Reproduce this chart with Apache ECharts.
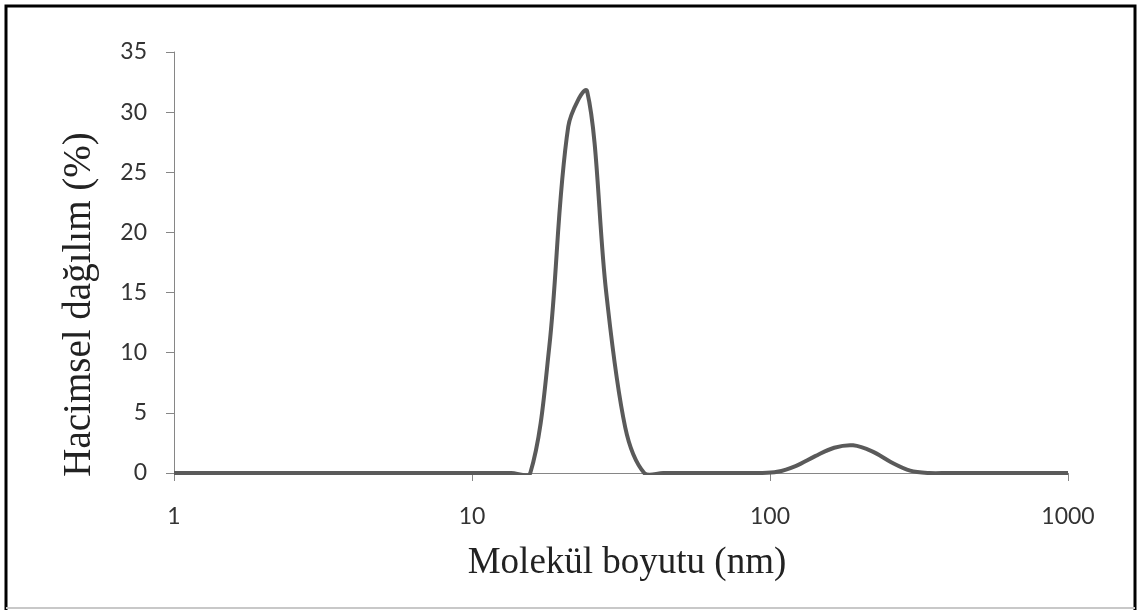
<!DOCTYPE html>
<html lang="tr" style="height: 100%">
<head>
  <meta charset="utf-8">
</head>
<body style="height: 100%; margin: 0; background: #fff">
  <div id="container" style="width: 1138px; height: 610px"></div>

  <script type="text/javascript" src="https://fastly.jsdelivr.net/npm/echarts@6/dist/echarts.min.js"></script>
  <script type="text/javascript">
    // size bins (nm) and volume distribution (%)
    var sizes = [0.9649, 1.117, 1.294, 1.499, 1.736, 2.01, 2.328, 2.696, 3.122, 3.615,
      4.187, 4.849, 5.615, 6.503, 7.531, 8.721, 10.1, 11.7, 13.54, 15.69,
      18.17, 21.04, 24.36, 28.21, 32.67, 37.84, 43.82, 50.75, 58.77, 68.06,
      78.82, 91.28, 105.7, 122.4, 141.8, 164.2, 190.1, 220.2, 255.0, 295.3,
      342.0, 396.1, 458.7, 531.2, 615.1, 712.4, 825.0, 955.4, 1106];
    var volume = [0, 0, 0, 0, 0, 0, 0, 0, 0, 0,
      0, 0, 0, 0, 0, 0, 0, 0, 0, 0,
      10.5, 28.8, 31.7, 15.0, 3.8, 0, 0, 0, 0, 0,
      0, 0, 0.1, 0.6, 1.4, 2.1, 2.3, 1.8, 0.9, 0.2,
      0, 0, 0, 0, 0, 0, 0, 0, 0];
    var yTicks = [0, 5, 10, 15, 20, 25, 30, 35];

    var dom = document.getElementById('container');
    var myChart = echarts.init(dom, null, { renderer: 'canvas' });

    var seriesData = sizes.map(function (s, i) { return [s, volume[i]]; });
    var axisGray = '#868686';
    var labelFont = 'Lato, "Open Sans", sans-serif';
    var nameFont = '"Liberation Serif", "DejaVu Serif", serif';

    function dist(a, b) { return Math.sqrt((a[0] - b[0]) * (a[0] - b[0]) + (a[1] - b[1]) * (a[1] - b[1])); }

    // spreadsheet-style smoothed line: bezier arms scaled by neighbouring segment lengths
    function renderCurve(params, api) {
      if (params.dataIndex !== 0) return;
      var pts = seriesData.map(function (d) { return api.coord(d); });
      var path = 'M' + pts[0][0] + ',' + pts[0][1];
      for (var i = 0; i < pts.length - 1; i++) {
        var p0 = pts[i - 1] || pts[i];
        var p1 = pts[i];
        var p2 = pts[i + 1];
        var p3 = pts[i + 2] || p2;
        var d01 = dist(p0, p1), d12 = dist(p1, p2), d23 = dist(p2, p3);
        var f1 = d01 + d12 > 0 ? d12 / (d01 + d12) / 3 : 0;
        var f2 = d12 + d23 > 0 ? d12 / (d12 + d23) / 3 : 0;
        var c1x = p1[0] + (p2[0] - p0[0]) * f1, c1y = p1[1] + (p2[1] - p0[1]) * f1;
        var c2x = p2[0] - (p3[0] - p1[0]) * f2, c2y = p2[1] - (p3[1] - p1[1]) * f2;
        path += 'C' + c1x + ',' + c1y + ' ' + c2x + ',' + c2y + ' ' + p2[0] + ',' + p2[1];
      }
      var cs = params.coordSys;
      return {
        type: 'group',
        clipPath: { type: 'rect', shape: { x: cs.x, y: cs.y - 4, width: cs.width, height: cs.height + 6 } },
        children: [{
          type: 'path',
          shape: { pathData: path },
          style: { fill: null, stroke: '#5a5a5a', lineWidth: 4, lineJoin: 'round' }
        }]
      };
    }

    var option = {
      animation: false,
      backgroundColor: '#fff',
      grid: { left: 174, right: 70, top: 52, bottom: 137 },
      xAxis: {
        type: 'log',
        logBase: 10,
        min: 1,
        max: 1000,
        name: 'Molekül boyutu (nm)',
        nameLocation: 'middle',
        nameGap: 72,
        nameTextStyle: { fontFamily: nameFont, fontSize: 37, color: '#222', padding: [0, 0, 0, 12] },
        axisLine: { onZero: false, lineStyle: { color: axisGray, width: 1 } },
        axisTick: { show: true, length: 8, lineStyle: { color: axisGray } },
        minorTick: { show: false },
        splitLine: { show: false },
        axisLabel: {
          margin: 32, fontFamily: labelFont, fontSize: 23, color: '#333',
          formatter: function (v) { return String(Math.round(v)); }
        }
      },
      yAxis: {
        type: 'value',
        min: yTicks[0],
        max: yTicks[yTicks.length - 1],
        interval: 5,
        name: 'Hacimsel dağılım (%)',
        nameLocation: 'middle',
        nameGap: 75,
        nameTextStyle: { fontFamily: nameFont, fontSize: 39, color: '#222', padding: [0, 84, 0, 0] },
        axisLine: { show: true, lineStyle: { color: axisGray, width: 1 } },
        axisTick: { show: true, length: 8, lineStyle: { color: axisGray } },
        splitLine: { show: false },
        axisLabel: { margin: 27, fontFamily: labelFont, fontSize: 23, color: '#333' }
      },
      series: [{
        type: 'custom',
        data: seriesData,
        encode: { x: 0, y: 1 },
        renderItem: renderCurve,
        silent: true
      }],
      graphic: [
        { type: 'rect', silent: true, z: 100,
          shape: { x: 6, y: 6, width: 1129, height: 610 },
          style: { fill: 'none', stroke: '#000', lineWidth: 3 } },
        { type: 'line', silent: true, z: 100,
          shape: { x1: 6, y1: 608, x2: 1135, y2: 608 },
          style: { stroke: '#c8c8c8', lineWidth: 2 } }
      ]
    };

    myChart.setOption(option);
    window.addEventListener('resize', myChart.resize);
  </script>
</body>
</html>
